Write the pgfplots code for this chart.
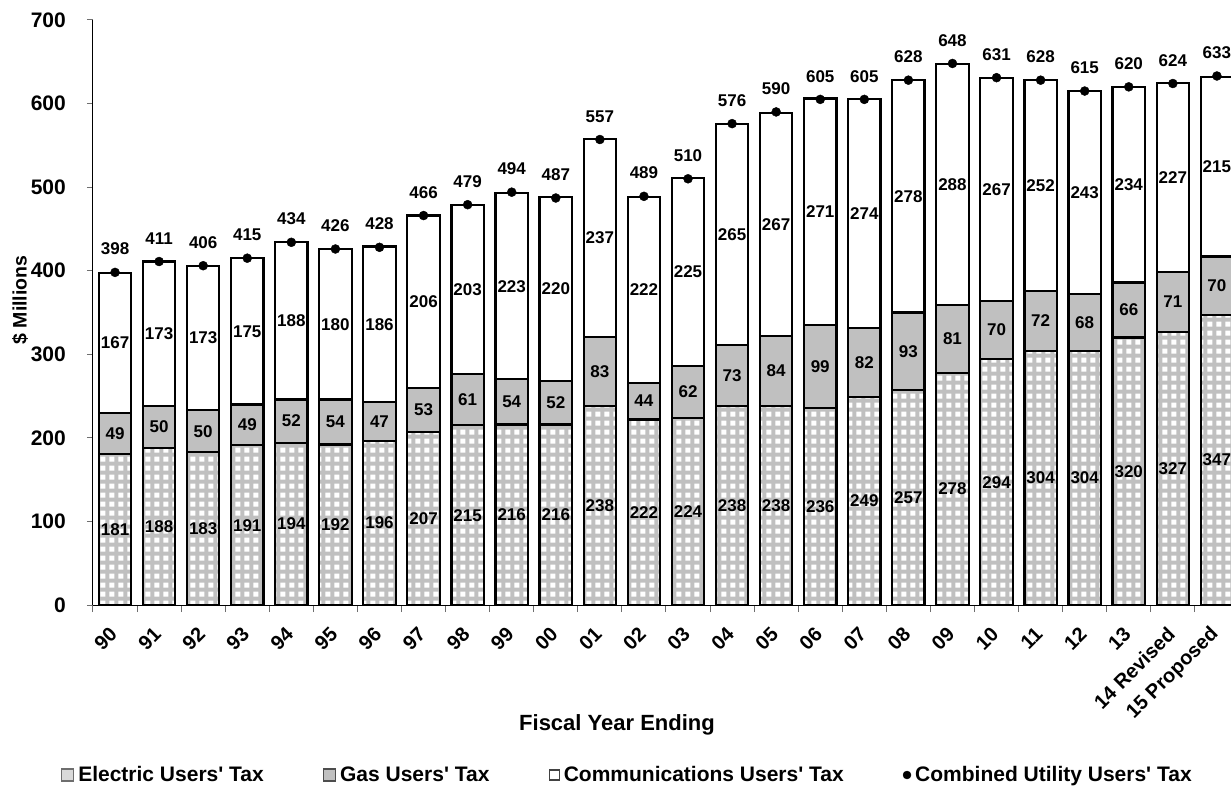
\documentclass[border=0pt]{standalone}
\usepackage{fontspec}
\setmainfont{Liberation Sans}
\usepackage{pgfplots}
\pgfplotsset{compat=1.18}
\usepackage{pgfplotstable}
\usetikzlibrary{patterns,calc}

\pgfdeclarepatternformonly{checks}{\pgfqpoint{0pt}{0pt}}{\pgfqpoint{9pt}{9pt}}{\pgfqpoint{9pt}{9pt}}{%
  \pgfpathrectangle{\pgfqpoint{1.5pt}{1.5pt}}{\pgfqpoint{5.5pt}{5.5pt}}\pgfusepath{fill}}

\definecolor{elecbase}{RGB}{192,192,192}
\definecolor{gasfill}{RGB}{192,192,192}
\definecolor{tickgray}{RGB}{110,110,110}

\pgfplotstableread{
x e g c t
0 181 49 167 398
1 188 50 173 411
2 183 50 173 406
3 191 49 175 415
4 194 52 188 434
5 192 54 180 426
6 196 47 186 428
7 207 53 206 466
8 215 61 203 479
9 216 54 223 494
10 216 52 220 487
11 238 83 237 557
12 222 44 222 489
13 224 62 225 510
14 238 73 265 576
15 238 84 267 590
16 236 99 271 605
17 249 82 274 605
18 257 93 278 628
19 278 81 288 648
20 294 70 267 631
21 304 72 252 628
22 304 68 243 615
23 320 66 234 620
24 327 71 227 624
25 347 70 215 633
}\data

\newcommand{\lblfont}{\fontsize{17}{20}\selectfont\bfseries}

\begin{document}
\begin{tikzpicture}
\begin{axis}[
  scale only axis,
  width=1138pt, height=585pt,
  xmin=-0.5, xmax=25.32, ymin=0, ymax=700,
  axis x line=bottom, axis y line=left,
  axis line style={-, line width=1pt, black},
  clip=true,
  ytick={0,100,...,700},
  xtick={0,...,25},
  xticklabels={90,91,92,93,94,95,96,97,98,99,00,01,02,03,04,05,06,07,08,09,10,11,12,13,14 Revised,15 Proposed},
  minor xtick={-0.5,0.5,...,24.5},
  tick align=outside,
  major tick length=6pt, minor tick length=7pt,
  major x tick style={draw=none},
  minor x tick style={draw=tickgray, line width=1pt},
  major y tick style={draw=tickgray, line width=1pt},
  /pgf/number format/assume math mode=true,
  yticklabel style={font=\fontsize{21}{24}\selectfont\bfseries, inner sep=0pt, anchor=east, xshift=-21pt},
  xticklabel style={font=\fontsize{20}{24}\selectfont\bfseries, inner sep=0pt, xshift=-1.5pt, yshift=-20pt, rotate=45, anchor=east},
  legend columns=4,
  legend style={at={(0,0)}, anchor=west, xshift=-32pt, yshift=-170pt,
    draw=none, fill=none, inner sep=0pt, outer sep=0pt,
    font=\fontsize{21}{24}\selectfont\bfseries,
    nodes={inner sep=0pt},
    /tikz/every even column/.append style={column sep=59pt},
    /tikz/every odd column/.append style={column sep=4pt}},
]
% legend images
\addlegendimage{legend image code/.code={\draw[draw=tickgray, line width=1.3pt, fill=elecbase!60] (0pt,-6pt) rectangle (12pt,6pt);}}
\addlegendentry{Electric Users\textquotesingle\ Tax}
\addlegendimage{legend image code/.code={\draw[draw=tickgray!70!black, line width=1.3pt, fill=gasfill] (0pt,-6pt) rectangle (12pt,6pt);}}
\addlegendentry{Gas Users\textquotesingle\ Tax}
\addlegendimage{legend image code/.code={\draw[draw=tickgray!60!black, line width=1.3pt, fill=white] (0pt,-5pt) rectangle (10pt,5pt);}}
\addlegendentry{Communications Users\textquotesingle\ Tax}
\addlegendimage{legend image code/.code={\fill[black] (4pt,0pt) circle (4pt);}}
\addlegendentry{Combined Utility Users\textquotesingle\ Tax}

% bars (cumulative, drawn back to front)
\addplot[forget plot, ybar, bar width=0.735, bar shift=0pt, draw=black, line width=2.2pt, fill=white]
  table[x=x, y expr=\thisrow{e}+\thisrow{g}+\thisrow{c}] {\data};
\addplot[forget plot, ybar, bar width=0.735, bar shift=0pt, draw=black, line width=2.2pt, fill=gasfill]
  table[x=x, y expr=\thisrow{e}+\thisrow{g}] {\data};
\addplot[forget plot, ybar, bar width=0.735, bar shift=0pt, draw=black, line width=2.2pt,
  preaction={fill=elecbase}, preaction={pattern=checks, pattern color=white}]
  table[x=x, y=e] {\data};

% segment labels
\addplot[forget plot, only marks, mark=none,
  nodes near coords, point meta=explicit symbolic,
  nodes near coords style={font=\lblfont, inner sep=0pt, anchor=center}]
  table[x=x, y expr=\thisrow{e}/2, meta=e] {\data};
\addplot[forget plot, only marks, mark=none,
  nodes near coords, point meta=explicit symbolic,
  nodes near coords style={font=\lblfont, inner sep=0pt, anchor=center}]
  table[x=x, y expr=\thisrow{e}+\thisrow{g}/2, meta=g] {\data};
\addplot[forget plot, only marks, mark=none,
  nodes near coords, point meta=explicit symbolic,
  nodes near coords style={font=\lblfont, inner sep=0pt, anchor=center}]
  table[x=x, y expr=\thisrow{e}+\thisrow{g}+\thisrow{c}/2, meta=c] {\data};

% combined total
\addplot[forget plot, only marks, mark=*, mark size=4.5pt, black,
  nodes near coords, point meta=explicit symbolic,
  nodes near coords style={font=\lblfont, inner sep=0pt, anchor=south, yshift=17pt}]
  table[x=x, y=t, meta=t] {\data};
\end{axis}
\node[font=\fontsize{22}{26}\selectfont\bfseries] at ($(current axis.south west)+(524pt,-120pt)$) {Fiscal Year Ending};
\node[font=\fontsize{19.5}{22}\selectfont\bfseries, rotate=90] at ($(current axis.south west)+(-73pt,305pt)$) {\$ Millions};
\pgfresetboundingbox
\useasboundingbox ($(current axis.south west)+(-93pt,-182pt)$) rectangle ($(current axis.south west)+(1138pt,605pt)$);
\end{tikzpicture}
\end{document}
